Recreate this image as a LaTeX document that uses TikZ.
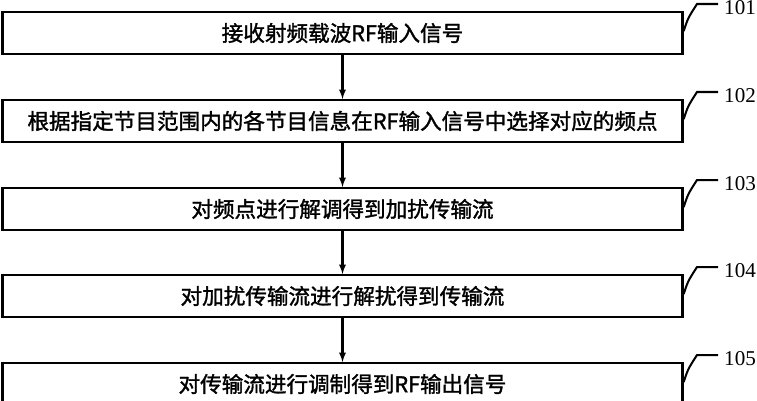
\documentclass[tikz,border=0pt]{standalone}
\usepackage{fontspec}
\setmainfont{Liberation Serif}
\newfontfamily\cjk{Noto Sans CJK SC}[AutoFakeBold=1.5]
\usetikzlibrary{positioning}
\tikzset{
  stepbox/.style={draw, line width=2.4pt, minimum width=23.8cm, minimum height=1.45cm,
    font=\cjk\bfseries\fontsize{21.5}{23}\selectfont, inner sep=0pt},
  tag/.style={font=\fontsize{21}{23}\selectfont, anchor=west, inner sep=0pt}
}
\begin{document}
\begin{tikzpicture}[x=0.035cm, y=-0.035cm, >=latex]
\useasboundingbox (0,0) rectangle (757,400);

\node [stepbox] (s1) at (342.5,33) {接收射频载波RF输入信号};
\node [stepbox] (s2) at (342.5,121) {根据指定节目范围内的各节目信息在RF输入信号中选择对应的频点};
\node [stepbox] (s3) at (342.5,209) {对频点进行解调得到加扰传输流};
\node [stepbox] (s4) at (342.5,296) {对加扰传输流进行解扰得到传输流};
\node [stepbox] (s5) at (342.5,384) {对传输流进行调制得到RF输出信号};

\draw [->, line width=2.2pt] (s1) -- (s2);
\draw [->, line width=2.2pt] (s2) -- (s3);
\draw [->, line width=2.2pt] (s3) -- (s4);
\draw [->, line width=2.2pt] (s4) -- (s5);

% leaders
\foreach \i/\y in {1/0,2/88,3/176,4/263,5/351} {
  \coordinate (c\i) at (718,4+\y);
  \draw [line width=2pt] (s\i.north east) ++(0,20) .. controls (688,18+\y) .. (697,4+\y) -- (c\i);
  \node [tag] (t\i) at (724,8+\y) {10\i};
}
\end{tikzpicture}
\end{document}
